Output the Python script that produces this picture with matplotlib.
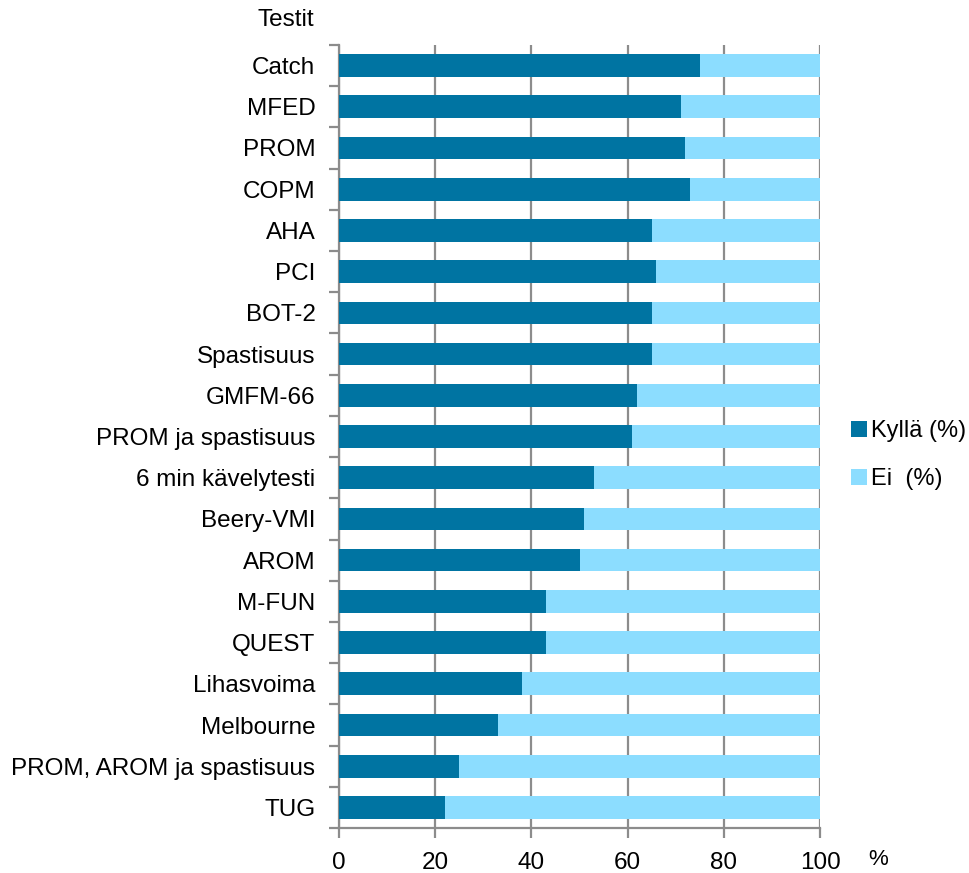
import numpy as np
import matplotlib.pyplot as plt

testit = ['Catch', 'MFED', 'PROM', 'COPM', 'AHA', 'PCI', 'BOT-2', 'Spastisuus',
          'GMFM-66', 'PROM ja spastisuus', '6 min kävelytesti', 'Beery-VMI',
          'AROM', 'M-FUN', 'QUEST', 'Lihasvoima', 'Melbourne',
          'PROM, AROM ja spastisuus', 'TUG']
kylla = [75, 71, 72, 73, 65, 66, 65, 65, 62, 61, 53, 51, 50, 43, 43, 38, 33, 25, 22]
ei = [100 - k for k in kylla]

dark = '#0074A2'
light = '#8CDDFF'
grid_col = '#8C8C8C'

plt.rcParams['font.family'] = 'Liberation Sans'

fig = plt.figure(figsize=(9.7, 8.73), dpi=100)
ax = fig.add_axes([0.3495, 0.0515, 0.4959, 0.897])

y = np.arange(len(testit))
ax.barh(y, kylla, height=0.55, color=dark, label='Kyllä (%)', zorder=3)
ax.barh(y, ei, left=kylla, height=0.55, color=light, label='Ei  (%)', zorder=3)

ax.set_xlim(0, 100)
ax.set_ylim(len(testit) - 0.5, -0.5)
ax.set_xticks(range(0, 101, 20))
ax.xaxis.grid(True, color=grid_col, linewidth=1.6, zorder=0)

ax.set_yticks(y)
ax.set_yticklabels(testit, fontsize=17.5)
ax.set_yticks(np.arange(-0.5, len(testit)), minor=True)
ax.tick_params(axis='y', which='major', length=0, pad=17)
ax.tick_params(axis='y', which='minor', length=7, width=1.6, color=grid_col)
ax.tick_params(axis='x', length=7, width=1.6, color=grid_col, pad=10, labelsize=17.5)

for side in ['top', 'right']:
    ax.spines[side].set_visible(False)
for side in ['left', 'bottom']:
    ax.spines[side].set_color(grid_col)
    ax.spines[side].set_linewidth(1.6)

fig.text(0.324, 0.977, 'Testit', ha='right', va='center', fontsize=17.5)
fig.text(0.905, 0.015, '%', ha='center', va='center', fontsize=16)

ax.legend(loc='center left', bbox_to_anchor=(1.02, 0.476), frameon=False,
          handlelength=0.7, handleheight=0.7, handletextpad=0.15,
          labelspacing=1.1, prop={'size': 17})

fig.savefig('out.png', dpi=100)
